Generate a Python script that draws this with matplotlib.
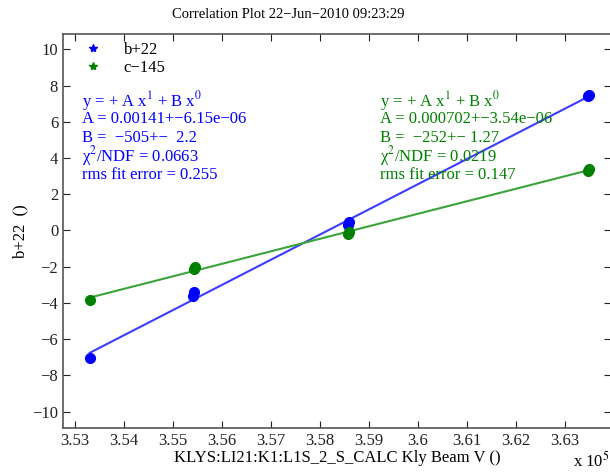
import matplotlib
matplotlib.use("Agg")
import matplotlib.pyplot as plt
import numpy as np
from matplotlib.ticker import FuncFormatter, MultipleLocator

plt.rcParams["font.family"] = ["Liberation Serif", "DejaVu Serif"]
plt.rcParams["mathtext.fontset"] = "stix"

# beam voltage (V) and the two correlated readings
b_x = [353300, 355400, 355420, 358580, 358600, 363480, 363500]
b_y = [-7.05, -3.6, -3.4, 0.3, 0.45, 7.4, 7.5]
c_x = [353300, 355420, 355450, 358580, 358600, 363480, 363500]
c_y = [-3.85, -2.15, -2.0, -0.2, -0.1, 3.3, 3.4]

b_label = "b+22"
c_label = "c\u2212145"

b_fit_text = [
    "y = + A x$^1$ + B x$^0$",
    "A = 0.00141+\u22126.15e\u221206",
    "B =  \u2212505+\u2212  2.2",
    "\u03c7$^2$/NDF = 0.0663",
    "rms fit error = 0.255",
]
c_fit_text = [
    "y = + A x$^1$ + B x$^0$",
    "A = 0.000702+\u22123.54e\u221206",
    "B =  \u2212252+\u2212 1.27",
    "\u03c7$^2$/NDF = 0.0219",
    "rms fit error = 0.147",
]

fig = plt.figure(figsize=(6.1, 4.72), dpi=100)
ax = fig.add_axes([0.1033, 0.0932, 0.899, 0.835])

blue = "#0000ff"
green = "#008000"

for xs, ys, col, line_col, lab in [
    (b_x, b_y, blue, "#3c3cff", b_label),
    (c_x, c_y, green, "#3aa33a", c_label),
]:
    xs = np.array(xs, dtype=float)
    ys = np.array(ys, dtype=float)
    a, b = np.polyfit(xs, ys, 1)
    xl = np.array([xs.min(), xs.max()])
    ax.plot(xl, a * xl + b, color=line_col, lw=1.5, zorder=2)
    ax.plot(xs, ys, ls="none", marker="o", ms=7, color=col, zorder=3)
    ax.plot([], [], ls="none", marker="*", ms=6, color=col, label=lab)

ax.set_xlim(352755, 363950)
ax.set_ylim(-10.9, 10.85)
ax.xaxis.set_major_locator(MultipleLocator(1000))
ax.xaxis.set_major_formatter(FuncFormatter(lambda v, p: "%g" % round(v / 1e5, 4)))
ax.yaxis.set_major_locator(MultipleLocator(2))
ax.yaxis.set_major_formatter(FuncFormatter(lambda v, p: ("%g" % v).replace("-", "\u2212")))
ax.tick_params(direction="in", top=True, right=True, length=5, labelsize=12, colors="#222222")
for s in ax.spines.values():
    s.set_color("#555555")
    s.set_linewidth(1.2)

fig.text(288 / 610, 1 - 15 / 472, "Correlation Plot 22\u2212Jun\u22122010 09:23:29",
         fontsize=10.5, ha="center", va="center")
ax.set_xlabel("KLYS:LI21:K1:L1S_2_S_CALC Kly Beam V ()", fontsize=12, labelpad=1)
ax.set_ylabel("b+22  ()", fontsize=12, labelpad=3)
fig.text(0.94, 0.012, "x 10$^5$", fontsize=12)

ax.legend(loc="upper left", frameon=False, fontsize=12, handletextpad=0.8,
          borderaxespad=0.1, labelspacing=0.1, bbox_to_anchor=(0.01, 1.0))

for lines, x0, col in [(b_fit_text, 0.035, blue), (c_fit_text, 0.578, green)]:
    for i, t in enumerate(lines):
        ax.text(x0, 0.83 - i * 0.047, t, transform=ax.transAxes, color=col,
                fontsize=12, va="center")

fig.savefig("out.png", dpi=100)
